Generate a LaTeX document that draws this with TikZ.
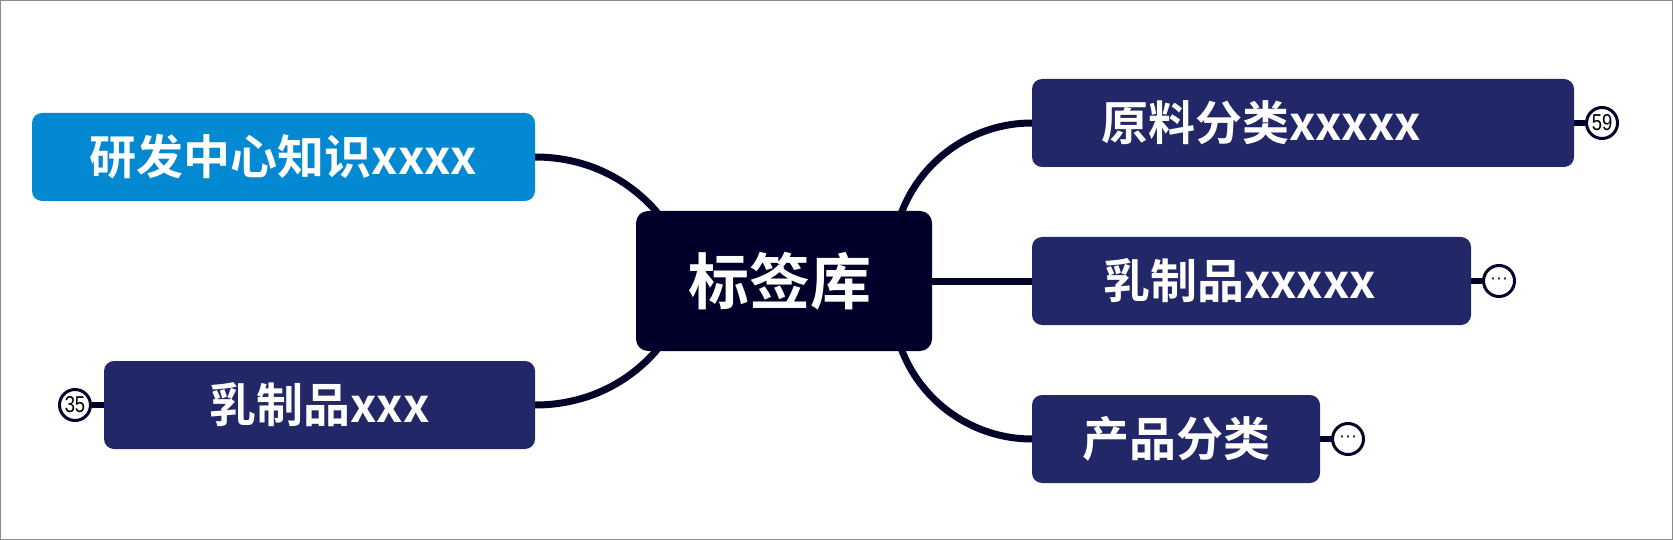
\documentclass[tikz,border=0pt]{standalone}
\usepackage{fontspec}
\usetikzlibrary{calc,backgrounds}
\newfontfamily\cjkb{Noto Sans CJK SC Bold}
\newfontfamily\numfont[FakeStretch=0.8]{Liberation Sans}
\newfontfamily\symfont{DejaVu Sans}
\definecolor{rootcol}{HTML}{00002A}
\definecolor{navy}{HTML}{212767}
\definecolor{lblue}{HTML}{0388D2}
\definecolor{linecol}{HTML}{03032A}
\definecolor{framecol}{HTML}{8A8A8A}
\tikzset{
  rootbox/.style={rectangle, rounded corners=12pt, fill=rootcol, text=white, inner sep=0pt,
    minimum width=296pt, minimum height=140pt, font=\cjkb\fontsize{61}{70}\selectfont},
  topicbox/.style={rectangle, rounded corners=10pt, fill=navy, text=white, inner sep=0pt,
    minimum height=88pt, font=\cjkb\fontsize{47}{56}\selectfont},
  conn/.style={draw=linecol, line width=7pt},
  stub/.style={draw=linecol, line width=6pt},
  badge/.style={circle, draw=linecol, line width=3pt, fill=white, inner sep=0pt,
    minimum size=31pt, text=black},
}
\begin{document}
\begin{tikzpicture}[x=1pt,y=-1pt]
\useasboundingbox (0,0) rectangle (1673,540);
\draw[framecol, line width=1.2pt] (0.6,0.6) rectangle (1672.4,539.4);

% root
\node[rootbox] (root) at (784,281) {\hspace*{-8pt}标签库};

% left topics
\node[topicbox, fill=lblue, minimum width=503pt] (yf) at (283.5,157) {研发中心知识xxxx};
\node[topicbox, minimum width=431pt] (rz) at (319.5,405) {乳制品xxx};

% right topics
\node[topicbox, text width=404pt, inner xsep=69pt, align=left] (yl) at (1303,123) {原料分类xxxxx};
\node[topicbox, text width=297pt, inner xsep=71pt, align=left] (rz2) at (1251.5,281) {乳制品xxxxx};
\node[topicbox, minimum width=288pt] (cp) at (1176,439) {产品分类};

% badges
\node[badge, font=\numfont\fontsize{23}{26}\selectfont] (b35) at (75,405) {35};
\node[badge, font=\numfont\fontsize{23}{26}\selectfont] (b59) at (1602,123) {59};
\node[badge, font=\symfont\fontsize{18}{20}\selectfont, text=navy] (bd1) at (1499,281) {⋯};
\node[badge, font=\symfont\fontsize{18}{20}\selectfont, text=navy] (bd2) at (1348,439) {⋯};

\begin{scope}[on background layer]
  \draw[conn] (yf.east) .. controls +(47,0) and +(-31,-35) .. ($(root.north west)+(20,0)$) -- ++(6,8);
  \draw[conn] (rz.east) .. controls +(47,0) and +(-31,35) .. ($(root.south west)+(20,0)$) -- ++(6,-8);
  \draw[conn] (yl.west) .. controls +(-57,0) and +(21,-53) .. ($(root.north east)+(-30,0)$) -- ++(-3,8);
  \draw[conn] (cp.west) .. controls +(-57,0) and +(21,53) .. ($(root.south east)+(-30,0)$) -- ++(-3,-8);
  \draw[conn] (rz2.west) -- (root.east);
  \draw[stub] (rz.west) -- (b35.east);
  \draw[stub] (yl.east) -- (b59.west);
  \draw[stub] (rz2.east) -- (bd1.west);
  \draw[stub] (cp.east) -- (bd2.west);
\end{scope}
\end{tikzpicture}
\end{document}
